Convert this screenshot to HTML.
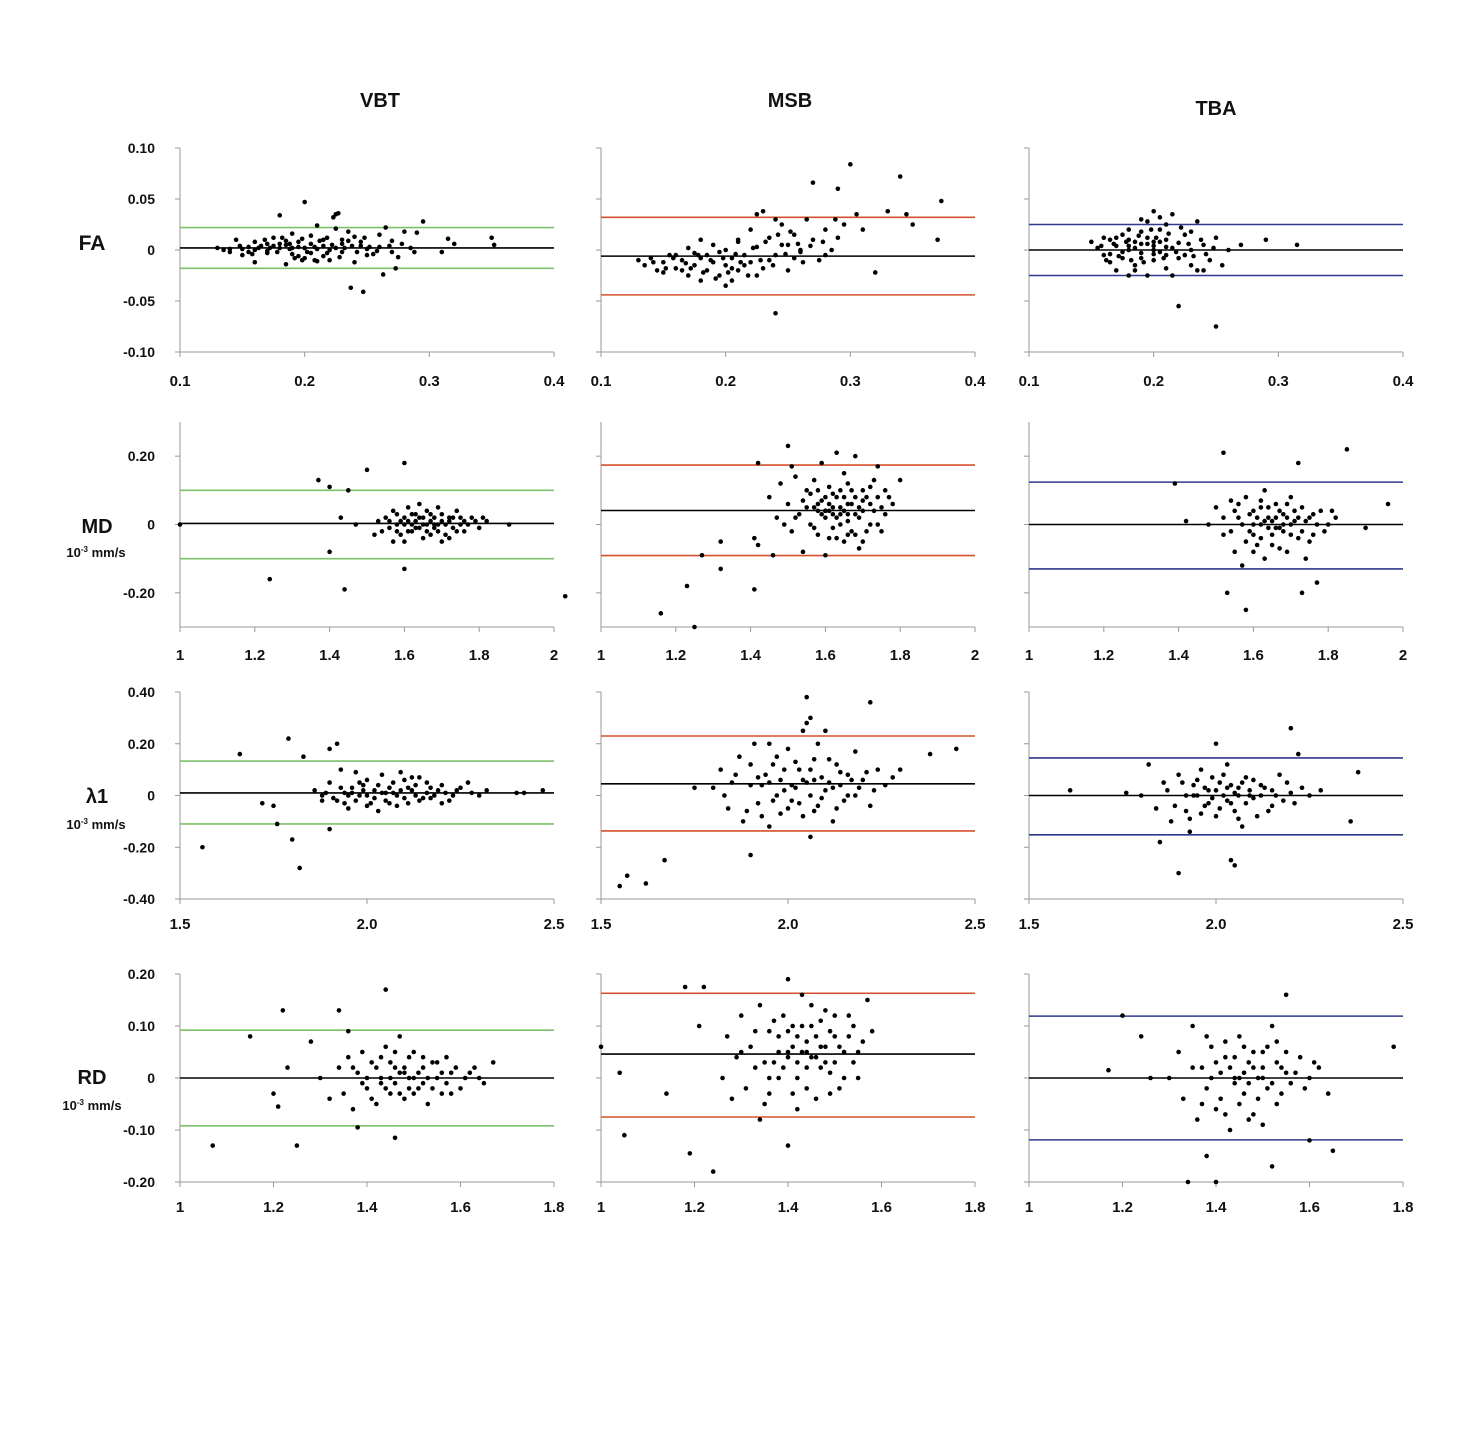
<!DOCTYPE html>
<html><head><meta charset="utf-8">
<style>
body{margin:0;background:#fff;}
svg{display:block;}
text{font-family:"Liberation Sans",Arial,sans-serif;font-weight:bold;fill:#111;}
</style></head>
<body>
<svg id="chart" width="1478" height="1429" viewBox="0 0 1478 1429">
<rect width="1478" height="1429" fill="#fff"/>
<text x="380" y="107" font-size="20" text-anchor="middle">VBT</text>
<text x="790" y="107" font-size="20" text-anchor="middle">MSB</text>
<text x="1216" y="115" font-size="20" text-anchor="middle">TBA</text>
<text x="92" y="250" font-size="21" text-anchor="middle">FA</text>
<text x="97" y="533" font-size="20" text-anchor="middle">MD</text>
<text x="96" y="557" font-size="13" text-anchor="middle">10<tspan font-size="8" dy="-5">-3</tspan><tspan dy="5"> mm/s</tspan></text>
<text x="97" y="803" font-size="20" text-anchor="middle">λ1</text>
<text x="96" y="829" font-size="13" text-anchor="middle">10<tspan font-size="8" dy="-5">-3</tspan><tspan dy="5"> mm/s</tspan></text>
<text x="92" y="1084" font-size="20" text-anchor="middle">RD</text>
<text x="92" y="1110" font-size="13" text-anchor="middle">10<tspan font-size="8" dy="-5">-3</tspan><tspan dy="5"> mm/s</tspan></text>
<g id="plots"></g>
</svg>
<script>
// ---- tick labels ----
const faYTicks=[0.10,0.05,0,-0.05,-0.10];
const faYLabels=["0.10","0.05","0","-0.05","-0.10"];
const faXTicks=[0.1,0.2,0.3,0.4];
const faXLabels=["0.1","0.2","0.3","0.4"];
const mdYTicks=[0.2,0,-0.2];
const mdYLabels=["0.20","0","-0.20"];
const mdXTicks=[1,1.2,1.4,1.6,1.8,2];
const mdXLabels=["1","1.2","1.4","1.6","1.8","2"];
const l1YTicks=[0.4,0.2,0,-0.2,-0.4];
const l1YLabels=["0.40","0.20","0","-0.20","-0.40"];
const l1XTicks=[1.5,2.0,2.5];
const l1XLabels=["1.5","2.0","2.5"];
const rdYTicks=[0.2,0.1,0,-0.1,-0.2];
const rdYLabels=["0.20","0.10","0","-0.10","-0.20"];
const rdXTicks=[1,1.2,1.4,1.6,1.8];
const rdXLabels=["1","1.2","1.4","1.6","1.8"];
// ---- limit lines [upper, mean, lower] ----
const faVbtLines=[0.022,0.002,-0.018];
const faMsbLines=[0.032,-0.006,-0.044];
const faTbaLines=[0.025,0,-0.025];
const mdVbtLines=[0.10,0.003,-0.10];
const mdMsbLines=[0.174,0.041,-0.091];
const mdTbaLines=[0.124,0,-0.13];
const l1VbtLines=[0.133,0.01,-0.11];
const l1MsbLines=[0.23,0.045,-0.137];
const l1TbaLines=[0.145,0,-0.152];
const rdVbtLines=[0.092,0,-0.092];
const rdMsbLines=[0.163,0.046,-0.075];
const rdTbaLines=[0.119,0,-0.119];
// ---- points [mean, difference] ----
const faVbt=[[0.13,0.002],[0.135,0],[0.14,0.001],[0.145,0.01],[0.15,-0.005],[0.155,0.003],[0.16,0.008],[0.16,-0.012],[0.165,0.004],[0.17,0.006],[0.17,-0.003],[0.175,0.012],[0.18,0.002],[0.18,0.034],[0.185,-0.014],[0.185,0.005],[0.19,0.016],[0.19,-0.004],[0.195,0.003],[0.195,0.008],[0.2,0.047],[0.2,-0.008],[0.2,0.002],[0.205,0.014],[0.205,-0.003],[0.21,0.024],[0.21,-0.011],[0.215,0.01],[0.215,0.004],[0.22,0],[0.22,-0.01],[0.225,0.021],[0.225,0.035],[0.23,0.006],[0.23,-0.002],[0.235,0.018],[0.235,0.009],[0.24,-0.012],[0.24,0.013],[0.245,0.004],[0.25,0.001],[0.25,-0.005],[0.255,-0.004],[0.26,0.015],[0.26,0.003],[0.265,0.022],[0.27,0.009],[0.27,-0.002],[0.275,-0.007],[0.28,0.018],[0.285,0.002],[0.29,0.017],[0.295,0.028],[0.31,-0.002],[0.315,0.011],[0.32,0.006],[0.35,0.012],[0.352,0.005],[0.18,0.006],[0.2,0.002],[0.223,0.032],[0.227,0.036],[0.237,-0.037],[0.247,-0.041],[0.263,-0.024],[0.273,-0.018],[0.16,0],[0.15,0.001],[0.17,-0.001],[0.19,0.002],[0.205,0.006],[0.215,-0.006],[0.175,0.004],[0.195,-0.006],[0.225,0.002],[0.245,0.008],[0.155,-0.002],[0.185,0.009],[0.21,0.001],[0.23,0.01],
[0.14,-0.002],[0.148,0.004],[0.158,-0.004],[0.163,0.002],[0.168,0.01],[0.172,0.002],[0.178,-0.002],[0.182,0.012],[0.188,0.001],[0.192,-0.008],[0.198,0.011],[0.202,-0.002],[0.208,0.003],[0.212,0.009],[0.218,-0.003],[0.222,0.005],[0.228,-0.007],[0.232,0.002],[0.238,0.004],[0.242,-0.002],[0.248,0.012],[0.252,0.003],[0.258,-0.001],[0.268,0.004],[0.278,0.006],[0.288,-0.002],[0.198,-0.01],[0.208,-0.01],[0.188,0.006],[0.218,0.012]];
const faMsb=[[0.13,-0.01],[0.135,-0.015],[0.14,-0.008],[0.145,-0.02],[0.15,-0.012],[0.155,-0.005],[0.16,-0.018],[0.165,-0.01],[0.17,-0.025],[0.17,0.002],[0.175,-0.015],[0.18,-0.03],[0.18,-0.008],[0.185,-0.02],[0.19,-0.012],[0.19,0.005],[0.195,-0.025],[0.2,-0.015],[0.2,0],[0.205,-0.03],[0.205,-0.008],[0.21,0.01],[0.21,-0.02],[0.215,-0.005],[0.22,0.02],[0.22,-0.012],[0.225,0.003],[0.23,0.038],[0.23,-0.018],[0.235,0.012],[0.24,-0.005],[0.24,-0.062],[0.245,0.025],[0.25,0.005],[0.25,-0.02],[0.255,0.015],[0.26,-0.002],[0.265,0.03],[0.27,0.066],[0.27,0.01],[0.275,-0.01],[0.28,0.02],[0.285,0],[0.29,0.06],[0.29,0.012],[0.295,0.025],[0.3,0.084],[0.305,0.035],[0.31,0.02],[0.32,-0.022],[0.33,0.038],[0.34,0.072],[0.345,0.035],[0.35,0.025],[0.37,0.01],[0.373,0.048],[0.16,-0.005],[0.18,0.01],[0.2,-0.035],[0.225,-0.025],[0.26,0],[0.15,-0.022],[0.24,0.03],[0.21,0.008],[0.195,-0.002],[0.225,0.035],[0.28,-0.005],[0.165,-0.02],[0.185,-0.005],[0.215,-0.015],[0.235,-0.01],[0.175,-0.003],[0.205,-0.018],[0.245,0.005],[0.255,-0.008],
[0.142,-0.012],[0.152,-0.018],[0.158,-0.008],[0.168,-0.013],[0.172,-0.018],[0.178,-0.005],[0.182,-0.022],[0.188,-0.01],[0.192,-0.028],[0.198,-0.008],[0.202,-0.022],[0.208,-0.004],[0.212,-0.012],[0.218,-0.025],[0.222,0.002],[0.228,-0.01],[0.232,0.008],[0.238,-0.015],[0.242,0.015],[0.248,-0.004],[0.252,0.018],[0.258,0.006],[0.262,-0.012],[0.268,0.004],[0.278,0.008],[0.288,0.03]];
const faTba=[[0.15,0.008],[0.155,0.002],[0.16,-0.005],[0.165,0.01],[0.165,-0.012],[0.17,0.004],[0.17,-0.02],[0.175,0.015],[0.175,-0.008],[0.18,0.02],[0.18,0],[0.185,-0.015],[0.185,0.008],[0.19,0.03],[0.19,-0.003],[0.195,0.012],[0.195,-0.025],[0.2,0.004],[0.2,0.038],[0.2,-0.01],[0.205,0.02],[0.205,-0.002],[0.21,0.01],[0.21,-0.018],[0.215,0.035],[0.215,0.002],[0.22,-0.008],[0.22,-0.055],[0.225,0.015],[0.23,0],[0.23,-0.015],[0.235,0.028],[0.24,0.005],[0.245,-0.01],[0.25,0.012],[0.25,-0.075],[0.255,-0.015],[0.26,0],[0.27,0.005],[0.29,0.01],[0.315,0.005],[0.16,0.012],[0.18,-0.025],[0.19,0.018],[0.21,0.025],[0.2,0],[0.195,0.006],[0.205,0.008],[0.185,0.002],[0.225,-0.005],[0.24,-0.02],[0.17,0.012],[0.23,0.018],[0.175,-0.002],[0.19,0.006],[0.2,-0.004],[0.21,0.003],[0.22,0.007],[0.18,0.01],[0.165,-0.004],
[0.158,0.004],[0.162,-0.01],[0.168,0.006],[0.172,-0.006],[0.178,0.008],[0.182,-0.01],[0.188,0.014],[0.192,-0.012],[0.198,0.02],[0.202,0.012],[0.208,-0.008],[0.212,0.016],[0.218,-0.002],[0.222,0.022],[0.228,0.006],[0.232,-0.006],[0.238,0.01],[0.242,-0.004],[0.248,0.002],[0.18,0.004],[0.19,-0.008],[0.2,0.008],[0.21,-0.005],[0.195,0.028],[0.205,0.032],[0.185,-0.02],[0.215,-0.025],[0.235,-0.02]];
const mdVbt=[[1.0,0],[1.24,-0.16],[1.37,0.13],[1.4,0.11],[1.44,-0.19],[1.45,0.1],[1.5,0.16],[1.6,0.18],[1.6,-0.13],[1.4,-0.08],[2.03,-0.21],[1.43,0.02],[1.47,0],[1.52,-0.03],[1.55,0.02],[1.56,-0.01],[1.57,0.04],[1.58,0],[1.59,-0.03],[1.6,0.02],[1.61,0.05],[1.62,-0.02],[1.63,0.01],[1.64,0.06],[1.65,-0.04],[1.66,0],[1.67,0.03],[1.68,-0.01],[1.69,0.05],[1.7,0.01],[1.71,-0.03],[1.72,0.02],[1.73,-0.01],[1.74,0.04],[1.75,0],[1.76,-0.02],[1.78,0.02],[1.8,-0.01],[1.82,0.01],[1.88,0],[1.58,0.03],[1.62,0],[1.65,0.02],[1.68,0.02],[1.6,-0.05],[1.7,-0.05],[1.53,0.01],[1.57,-0.05],[1.64,-0.01],[1.66,0.04],[1.72,-0.04],[1.61,0.01],[1.63,-0.01],[1.67,0.01],[1.69,-0.02],
[1.56,0.01],[1.58,-0.02],[1.6,0.0],[1.62,0.03],[1.63,0.03],[1.65,0.0],[1.66,-0.02],[1.67,-0.03],[1.69,0.0],[1.7,0.03],[1.71,0.0],[1.73,0.02],[1.74,-0.02],[1.75,0.02],[1.77,0.0],[1.79,0.01],[1.59,0.01],[1.61,-0.02],[1.64,0.02],[1.68,0.0],[1.72,0.01],[1.76,0.01],[1.54,-0.02],[1.81,0.02]];
const mdMsb=[[1.16,-0.26],[1.23,-0.18],[1.25,-0.3],[1.27,-0.09],[1.32,-0.05],[1.32,-0.13],[1.41,-0.19],[1.42,-0.06],[1.41,-0.04],[1.42,0.18],[1.45,0.08],[1.46,-0.09],[1.5,0.23],[1.51,0.17],[1.47,0.02],[1.48,0.12],[1.49,0],[1.5,0.06],[1.51,-0.02],[1.52,0.14],[1.53,0.03],[1.54,-0.08],[1.55,0.1],[1.56,0],[1.57,0.13],[1.57,0.05],[1.58,-0.03],[1.59,0.18],[1.59,0.07],[1.6,0.02],[1.6,-0.09],[1.61,0.11],[1.61,0.04],[1.62,-0.01],[1.63,0.21],[1.63,0.08],[1.64,0],[1.64,0.05],[1.65,0.15],[1.65,-0.05],[1.66,0.03],[1.66,0.12],[1.67,0.06],[1.67,-0.02],[1.68,0.2],[1.68,0.08],[1.69,-0.07],[1.7,0.04],[1.7,0.1],[1.71,-0.02],[1.72,0.06],[1.73,0.13],[1.74,0],[1.74,0.17],[1.75,0.05],[1.76,0.1],[1.77,0.08],[1.78,0.06],[1.8,0.13],[1.62,0.05],[1.6,0.04],[1.58,0.06],[1.65,0.04],[1.63,-0.04],[1.7,-0.05],[1.55,0.05],[1.62,0.03],[1.66,0.06],[1.6,0.04],[1.68,0.03],
[1.52,0.02],[1.54,0.07],[1.56,0.09],[1.57,-0.01],[1.58,0.1],[1.59,0.03],[1.6,0.08],[1.61,-0.04],[1.62,0.09],[1.63,0.02],[1.64,0.1],[1.65,0.08],[1.66,-0.03],[1.67,0.1],[1.68,-0.03],[1.69,0.02],[1.7,0.07],[1.71,0.08],[1.72,0.0],[1.73,0.04],[1.74,0.08],[1.75,-0.02],[1.76,0.03],[1.58,0.04],[1.61,0.06],[1.64,0.03],[1.66,0.01],[1.69,0.05],[1.72,0.11]];
const mdTba=[[1.39,0.12],[1.42,0.01],[1.52,0.21],[1.53,-0.2],[1.58,-0.25],[1.72,0.18],[1.73,-0.2],[1.77,-0.17],[1.85,0.22],[1.96,0.06],[1.9,-0.01],[1.48,0],[1.5,0.05],[1.52,-0.03],[1.54,0.07],[1.55,-0.08],[1.56,0.02],[1.57,-0.12],[1.58,0.08],[1.59,-0.02],[1.6,0.04],[1.61,-0.06],[1.62,0],[1.63,0.1],[1.63,-0.1],[1.64,0.02],[1.65,-0.03],[1.66,0.06],[1.67,-0.01],[1.68,0.03],[1.69,-0.08],[1.7,0.08],[1.7,0],[1.72,-0.04],[1.73,0.05],[1.74,-0.1],[1.75,0.02],[1.76,-0.03],[1.78,0.04],[1.8,0],[1.82,0.02],[1.6,0],[1.65,0.01],[1.68,-0.02],[1.62,0.05],[1.58,-0.05],[1.55,0.04],[1.64,-0.01],[1.66,0.02],[1.71,0.01],
[1.52,0.02],[1.54,-0.02],[1.56,0.06],[1.57,0.0],[1.59,0.03],[1.6,-0.03],[1.61,0.02],[1.62,-0.04],[1.63,0.01],[1.64,0.05],[1.65,-0.06],[1.66,-0.01],[1.67,0.04],[1.68,0.0],[1.69,0.02],[1.7,-0.03],[1.71,0.04],[1.72,0.02],[1.73,-0.02],[1.74,0.01],[1.75,-0.05],[1.76,0.03],[1.77,0.0],[1.79,-0.02],[1.81,0.04],[1.6,-0.08],[1.67,-0.07],[1.62,0.07],[1.69,0.06]];
const l1Vbt=[[1.56,-0.2],[1.66,0.16],[1.72,-0.03],[1.75,-0.04],[1.76,-0.11],[1.79,0.22],[1.8,-0.17],[1.82,-0.28],[1.83,0.15],[1.88,-0.02],[1.9,-0.13],[1.92,0.2],[1.9,0.18],[2.4,0.01],[2.47,0.02],[2.42,0.01],[1.86,0.02],[1.88,0],[1.9,0.05],[1.92,-0.02],[1.93,0.1],[1.94,0.01],[1.95,-0.05],[1.96,0.03],[1.98,0],[2.0,0.06],[2.01,-0.03],[2.02,0.02],[2.04,0.08],[2.05,-0.02],[2.06,0.03],[2.08,0],[2.1,0.06],[2.11,-0.03],[2.12,0.02],[2.14,0.07],[2.15,-0.01],[2.17,0.03],[2.18,0],[2.2,0.04],[2.22,-0.02],[2.24,0.02],[2.27,0.05],[2.3,0],[2.32,0.02],[1.97,0.09],[2.03,-0.06],[2.09,0.09],[1.95,0],[2.07,0.01],[2.13,0],[1.99,0.02],[2.05,0.01],[2.16,0.01],
[1.89,0.01],[1.91,-0.01],[1.93,0.03],[1.94,-0.03],[1.96,0.01],[1.97,-0.02],[1.99,0.04],[2.0,0.0],[2.02,-0.01],[2.03,0.04],[2.04,0.01],[2.06,-0.03],[2.07,0.05],[2.09,0.02],[2.1,-0.01],[2.11,0.03],[2.13,0.04],[2.14,-0.02],[2.16,0.05],[2.17,-0.01],[2.19,0.02],[2.21,0.01],[2.23,0.0],[2.25,0.03],[2.28,0.01],[2.0,-0.04],[2.08,-0.04],[1.98,0.05],[2.12,0.07],[2.2,-0.03]];
const l1Msb=[[1.55,-0.35],[1.57,-0.31],[1.62,-0.34],[1.67,-0.25],[1.75,0.03],[1.9,-0.23],[2.05,0.38],[2.22,0.36],[2.45,0.18],[2.38,0.16],[2.3,0.1],[2.06,-0.16],[1.8,0.03],[1.82,0.1],[1.84,-0.05],[1.85,0.05],[1.87,0.15],[1.88,-0.1],[1.9,0.04],[1.91,0.2],[1.92,-0.03],[1.94,0.08],[1.95,-0.12],[1.96,0.12],[1.97,0],[1.98,0.06],[2.0,0.18],[2.0,-0.05],[2.02,0.03],[2.03,0.1],[2.04,-0.08],[2.05,0.28],[2.05,0.05],[2.06,0],[2.07,0.14],[2.08,-0.04],[2.09,0.07],[2.1,0.25],[2.1,0.02],[2.12,-0.1],[2.13,0.12],[2.14,0.04],[2.15,-0.02],[2.16,0.08],[2.18,0.17],[2.18,0],[2.2,0.06],[2.22,-0.04],[2.24,0.1],[2.26,0.04],[2.28,0.07],[1.93,0.04],[2.01,0.04],[2.11,0.05],[1.99,0.02],[2.07,0.06],
[1.83,0.0],[1.86,0.08],[1.89,-0.06],[1.9,0.12],[1.92,0.07],[1.93,-0.08],[1.95,0.05],[1.96,-0.02],[1.97,0.15],[1.98,-0.07],[1.99,0.1],[2.01,-0.02],[2.02,0.13],[2.03,-0.03],[2.04,0.06],[2.06,0.1],[2.07,-0.06],[2.08,0.2],[2.09,-0.01],[2.11,0.14],[2.12,0.03],[2.13,-0.05],[2.14,0.09],[2.16,0.0],[2.17,0.06],[2.19,0.03],[2.21,0.09],[2.23,0.02],[2.06,0.3],[2.04,0.25],[1.95,0.2]];
const l1Tba=[[1.61,0.02],[1.76,0.01],[1.9,-0.3],[2.05,-0.27],[2.04,-0.25],[2.2,0.26],[2.22,0.16],[2.36,-0.1],[2.38,0.09],[2.0,0.2],[1.85,-0.18],[1.8,0],[1.82,0.12],[1.84,-0.05],[1.86,0.05],[1.88,-0.1],[1.9,0.08],[1.92,0],[1.93,-0.14],[1.94,0.04],[1.96,0.1],[1.97,-0.04],[1.98,0.02],[2.0,-0.08],[2.01,0.05],[2.02,0],[2.03,0.12],[2.04,-0.03],[2.06,0.03],[2.07,-0.12],[2.08,0.07],[2.1,-0.01],[2.12,0.04],[2.14,-0.06],[2.15,0.02],[2.17,0.08],[2.18,-0.02],[2.2,0.01],[2.23,0.03],[2.25,0],[2.28,0.02],[1.95,0],[2.05,0.01],[1.99,-0.01],[2.03,-0.02],[2.09,0.02],
[1.87,0.02],[1.89,-0.04],[1.91,0.05],[1.92,-0.06],[1.94,0.0],[1.95,0.06],[1.96,-0.07],[1.97,0.03],[1.98,-0.03],[1.99,0.07],[2.0,0.02],[2.01,-0.05],[2.02,0.08],[2.03,0.03],[2.04,0.04],[2.05,-0.06],[2.06,0.0],[2.07,0.05],[2.08,-0.03],[2.09,0.0],[2.1,0.06],[2.11,-0.08],[2.12,0.0],[2.13,0.03],[2.15,-0.04],[2.16,0.0],[2.19,0.05],[2.21,-0.03],[1.93,-0.09],[2.06,-0.09]];
const rdVbt=[[1.07,-0.13],[1.15,0.08],[1.2,-0.03],[1.21,-0.055],[1.22,0.13],[1.23,0.02],[1.25,-0.13],[1.28,0.07],[1.34,0.13],[1.36,0.09],[1.38,-0.095],[1.44,0.17],[1.46,-0.115],[1.3,0],[1.32,-0.04],[1.34,0.02],[1.35,-0.03],[1.36,0.04],[1.37,-0.06],[1.38,0.01],[1.39,0.05],[1.4,-0.02],[1.41,0.03],[1.42,-0.05],[1.43,0],[1.44,0.06],[1.45,-0.03],[1.46,0.02],[1.47,0.08],[1.48,-0.04],[1.49,0],[1.5,0.05],[1.51,-0.02],[1.52,0.02],[1.53,-0.05],[1.54,0.03],[1.55,0],[1.56,-0.03],[1.57,0.04],[1.58,0.01],[1.6,-0.02],[1.62,0.01],[1.64,0],[1.67,0.03],[1.45,0],[1.47,0.01],[1.43,-0.01],[1.5,0],[1.4,0],[1.48,0.02],[1.52,-0.01],
[1.37,0.02],[1.39,-0.01],[1.41,-0.04],[1.42,0.02],[1.43,0.04],[1.44,-0.02],[1.45,0.03],[1.46,-0.01],[1.47,-0.03],[1.48,0.01],[1.49,0.04],[1.5,-0.03],[1.51,0.01],[1.52,0.04],[1.53,0.0],[1.54,-0.02],[1.55,0.03],[1.56,0.01],[1.57,-0.01],[1.58,-0.03],[1.59,0.02],[1.61,0.0],[1.63,0.02],[1.65,-0.01],[1.49,-0.02],[1.46,0.05]];
const rdMsb=[[1.0,0.06],[1.04,0.01],[1.05,-0.11],[1.14,-0.03],[1.18,0.175],[1.19,-0.145],[1.22,0.175],[1.24,-0.18],[1.21,0.1],[1.34,-0.08],[1.4,-0.13],[1.42,-0.06],[1.57,0.15],[1.58,0.09],[1.4,0.19],[1.26,0],[1.27,0.08],[1.28,-0.04],[1.29,0.04],[1.3,0.12],[1.31,-0.02],[1.32,0.06],[1.33,0.02],[1.34,0.14],[1.35,-0.05],[1.36,0.09],[1.37,0.03],[1.38,0],[1.39,0.12],[1.4,0.05],[1.41,-0.03],[1.42,0.08],[1.43,0.16],[1.44,0.02],[1.44,0.05],[1.45,0.1],[1.46,-0.04],[1.47,0.06],[1.48,0.13],[1.49,0.01],[1.5,0.08],[1.51,-0.02],[1.52,0.05],[1.53,0.12],[1.54,0.03],[1.55,0],[1.56,0.07],[1.42,0.03],[1.4,0.04],[1.46,0.04],[1.38,0.05],[1.44,0.07],[1.48,0.03],
[1.3,0.05],[1.33,0.09],[1.35,0.03],[1.36,0.0],[1.37,0.11],[1.38,0.08],[1.39,0.02],[1.4,0.09],[1.41,0.06],[1.42,0.0],[1.43,0.05],[1.43,0.1],[1.45,0.04],[1.45,0.14],[1.46,0.08],[1.47,0.02],[1.47,0.11],[1.48,0.06],[1.49,0.09],[1.5,0.03],[1.5,0.12],[1.51,0.06],[1.52,0.0],[1.53,0.08],[1.54,0.1],[1.55,0.05],[1.41,0.1],[1.44,-0.02],[1.49,-0.03],[1.36,-0.03]];
const rdTba=[[1.17,0.015],[1.2,0.12],[1.24,0.08],[1.34,-0.2],[1.38,-0.15],[1.4,-0.2],[1.52,-0.17],[1.55,0.16],[1.6,-0.12],[1.65,-0.14],[1.78,0.06],[1.26,0],[1.3,0],[1.32,0.05],[1.33,-0.04],[1.35,0.1],[1.36,-0.08],[1.37,0.02],[1.38,-0.02],[1.39,0.06],[1.4,-0.06],[1.41,0.01],[1.42,0.04],[1.43,-0.1],[1.44,0],[1.45,0.08],[1.46,-0.03],[1.47,0.03],[1.48,-0.07],[1.49,0],[1.5,0.05],[1.51,-0.02],[1.52,0.1],[1.53,-0.05],[1.54,0.02],[1.56,-0.01],[1.58,0.04],[1.6,0],[1.62,0.02],[1.64,-0.03],[1.46,0.01],[1.44,-0.01],[1.5,0],[1.48,0.02],[1.55,0.01],
[1.35,0.02],[1.37,-0.05],[1.39,0.0],[1.4,0.03],[1.41,-0.04],[1.42,0.07],[1.43,0.02],[1.44,0.04],[1.45,-0.05],[1.46,0.06],[1.47,-0.01],[1.48,0.05],[1.49,-0.04],[1.5,0.02],[1.51,0.06],[1.52,-0.01],[1.53,0.03],[1.54,-0.03],[1.55,0.05],[1.57,0.01],[1.59,-0.02],[1.61,0.03],[1.45,0.0],[1.47,-0.08],[1.42,-0.07],[1.5,-0.09],[1.53,0.07],[1.38,0.08]];

const NS="http://www.w3.org/2000/svg";
const root=document.getElementById('plots');
function mk(tag,attrs,parent){const e=document.createElementNS(NS,tag);for(const k in attrs)e.setAttribute(k,attrs[k]);parent.appendChild(e);return e;}

const colLeft=[180,601,1029];
const colNames=['vbt','msb','tba'];
const lineColors=['#7dc06a','#d4502c','#2f3a8c'];
const plotW=374;
const rows=[
 {name:'fa',top:148,bot:352,y:[-0.1,0.1],x:[0.1,0.4],yt:faYTicks,yl:faYLabels,xt:faXTicks,xl:faXLabels,lab:380,data:[faVbt,faMsb,faTba],lines:[faVbtLines,faMsbLines,faTbaLines]},
 {name:'md',top:422,bot:627,y:[-0.3,0.3],x:[1,2],yt:mdYTicks,yl:mdYLabels,xt:mdXTicks,xl:mdXLabels,lab:654,data:[mdVbt,mdMsb,mdTba],lines:[mdVbtLines,mdMsbLines,mdTbaLines]},
 {name:'lambda1',top:692,bot:899,y:[-0.4,0.4],x:[1.5,2.5],yt:l1YTicks,yl:l1YLabels,xt:l1XTicks,xl:l1XLabels,lab:923,data:[l1Vbt,l1Msb,l1Tba],lines:[l1VbtLines,l1MsbLines,l1TbaLines]},
 {name:'rd',top:974,bot:1182,y:[-0.2,0.2],x:[1,1.8],yt:rdYTicks,yl:rdYLabels,xt:rdXTicks,xl:rdXLabels,lab:1206,data:[rdVbt,rdMsb,rdTba],lines:[rdVbtLines,rdMsbLines,rdTbaLines]}
];

rows.forEach(r=>{
 for(let c=0;c<3;c++){
  const L=colLeft[c], R=L+plotW;
  const sx=v=>L+(v-r.x[0])/(r.x[1]-r.x[0])*(R-L);
  const sy=v=>r.bot-(v-r.y[0])/(r.y[1]-r.y[0])*(r.bot-r.top);
  const g=mk('g',{},root);
  
  
  const ya=mk('line',{x1:L,y1:r.top,x2:L,y2:r.bot,stroke:'#999','stroke-width':1},g);
  
  
  const xa=mk('line',{x1:L,y1:r.bot,x2:R,y2:r.bot,stroke:'#999','stroke-width':1},g);
  
  
  r.yt.forEach((v,i)=>{
   mk('line',{x1:L-5,y1:sy(v),x2:L,y2:sy(v),stroke:'#999'},g);
   if(c===0){
    const t=mk('text',{x:L-25,y:sy(v)+5,'font-size':14,'text-anchor':'end'},g);
    t.textContent=r.yl[i];
    
    
   }
  });
  r.xt.forEach((v,i)=>{
   mk('line',{x1:sx(v),y1:r.bot,x2:sx(v),y2:r.bot+5,stroke:'#999'},g);
   const t=mk('text',{x:sx(v),y:r.lab+6,'font-size':15,'text-anchor':'middle'},g);
   t.textContent=r.xl[i];
   
   
  });
  const ln=r.lines[c];
  const names=['upper-limit-line','mean-difference-line','lower-limit-line'];
  ln.forEach((v,i)=>{
   const l=mk('line',{x1:L,y1:sy(v),x2:R,y2:sy(v),stroke:i===1?'#000':lineColors[c],'stroke-width':1.6},g);
   
   
  });
  r.data[c].forEach(p=>{
   const d=mk('circle',{cx:sx(p[0]),cy:sy(p[1]),r:2.3,fill:'#000'},g);
   
   
  });
 }
});
</script>
</body></html>
